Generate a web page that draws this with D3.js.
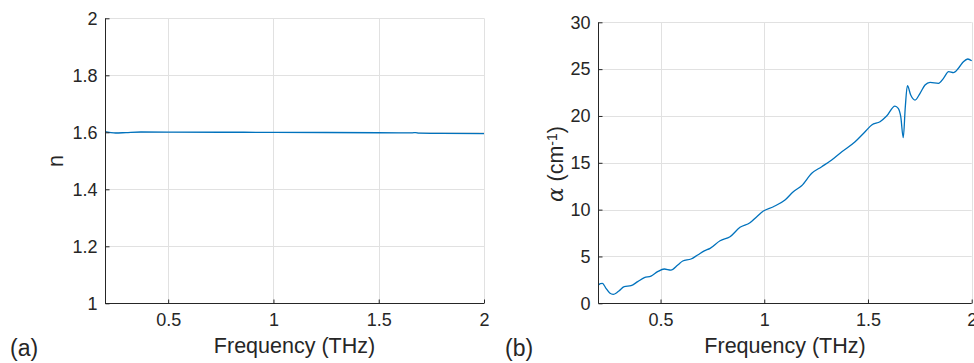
<!DOCTYPE html>
<html>
<head>
<meta charset="utf-8">
<script src="https://cdn.jsdelivr.net/npm/d3@7"></script>
<style>
  html, body { margin: 0; padding: 0; background: #ffffff; }
  svg { display: block; }
  text { font-family: "Liberation Sans", Arial, Helvetica, sans-serif; fill: #262626; }
</style>
</head>
<body>
<svg id="chart" width="974" height="363"></svg>
<script>
// ---- data ----
const xTicks = [0.5, 1, 1.5, 2];
const xTickLabels = ["0.5", "1", "1.5", "2"];
const nTicks = [1, 1.2, 1.4, 1.6, 1.8, 2];
const nTickLabels = ["1", "1.2", "1.4", "1.6", "1.8", "2"];
const alphaTicks = [0, 5, 10, 15, 20, 25, 30];
const alphaTickLabels = ["0", "5", "10", "15", "20", "25", "30"];

const nFreq  = [0.2, 0.22, 0.25, 0.3, 0.37, 0.5, 0.75, 1.0, 1.25, 1.5, 1.66, 1.675, 1.69, 1.8, 2.0];
const nValue = [1.602, 1.600, 1.5975, 1.599, 1.601, 1.6005, 1.6002, 1.600, 1.5993, 1.5985, 1.598, 1.599, 1.597, 1.5962, 1.5955];

const alphaFreq = [0.200, 0.210, 0.220, 0.237, 0.255, 0.272, 0.290, 0.301, 0.325, 0.358,
  0.390, 0.422, 0.454, 0.486, 0.518, 0.550, 0.583, 0.607, 0.647, 0.679,
  0.711, 0.739, 0.787, 0.835, 0.883, 0.931, 0.964, 0.996, 1.044, 1.100,
  1.140, 1.180, 1.229, 1.277, 1.325, 1.374, 1.438, 1.486, 1.518, 1.558,
  1.590, 1.630, 1.646, 1.658, 1.670, 1.680, 1.690, 1.706, 1.727, 1.751,
  1.775, 1.799, 1.840, 1.864, 1.889, 1.912, 1.936, 1.960, 1.981, 2.000];
const alphaValue = [1.95, 2.10, 2.13, 1.60, 1.10, 0.96, 1.15, 1.35, 1.77, 1.88,
  2.31, 2.74, 2.91, 3.38, 3.66, 3.55, 4.09, 4.52, 4.73, 5.16,
  5.60, 5.87, 6.68, 7.11, 8.11, 8.60, 9.25, 9.85, 10.31, 11.03,
  11.91, 12.55, 13.88, 14.58, 15.30, 16.18, 17.25, 18.32, 19.03, 19.39,
  20.00, 21.06, 20.82, 19.92, 17.68, 20.99, 23.23, 22.24, 21.70, 22.42,
  23.30, 23.59, 23.49, 24.02, 24.73, 24.62, 25.09, 25.79, 26.08, 25.90];

// ---- drawing ----
const svg = d3.select("#chart");
const lineColor = "#0072BD";
const gridColor = "#e1e1e1";
const axisColor = "#262626";

function panel(opts) {
  const x = d3.scaleLinear().domain([0.2, 2]).range([opts.left, opts.right]);
  const y = d3.scaleLinear().domain(opts.yDomain).range([opts.bottom, opts.top]);
  const g = svg.append("g");

  // grid
  g.append("g").selectAll("line.vg").data(xTicks).join("line")
    .attr("x1", d => Math.round(x(d)) + 0.5).attr("x2", d => Math.round(x(d)) + 0.5)
    .attr("y1", opts.top).attr("y2", opts.bottom)
    .attr("stroke", gridColor).attr("stroke-width", 1);
  g.append("g").selectAll("line.hg").data(opts.yTicks).join("line")
    .attr("y1", d => Math.round(y(d)) + 0.5).attr("y2", d => Math.round(y(d)) + 0.5)
    .attr("x1", opts.left).attr("x2", opts.right)
    .attr("stroke", gridColor).attr("stroke-width", 1);

  // data line
  const line = d3.line().x(d => x(d[0])).y(d => y(d[1])).curve(d3.curveMonotoneX);
  const pts = opts.xs.map((v, i) => [v, opts.ys[i]]);
  g.append("path").datum(pts).attr("d", line)
    .attr("fill", "none").attr("stroke", lineColor).attr("stroke-width", 1.3)
    .attr("stroke-linejoin", "round");

  // axes (ticks inside)
  const xAxis = d3.axisBottom(x).tickValues(xTicks)
    .tickFormat((d, i) => xTickLabels[i]).tickSizeInner(-4).tickSizeOuter(0).tickPadding(12);
  const gx = g.append("g").attr("transform", `translate(0,${Math.round(opts.bottom) + 0.5})`).call(xAxis);
  const yAxis = d3.axisLeft(y).tickValues(opts.yTicks)
    .tickFormat((d, i) => opts.yTickLabels[i]).tickSizeInner(-4).tickSizeOuter(0).tickPadding(8);
  const gy = g.append("g").attr("transform", `translate(${Math.round(opts.left) + 0.5},0)`).call(yAxis);
  [gx, gy].forEach(a => {
    a.selectAll(".domain").attr("stroke", axisColor).attr("stroke-width", 1);
    a.selectAll(".tick line").attr("stroke", axisColor);
    a.selectAll(".tick text").attr("fill", axisColor)
      .style("font-family", '"Liberation Sans", Arial, sans-serif').style("font-size", "18px");
  });
  gx.selectAll(".tick text").attr("dy", "0.71em").attr("y", 10);
  gx.select(".domain").attr("d", `M${opts.left},0H${opts.right}`);
  gy.select(".domain").attr("d", `M0,${opts.bottom}V${opts.top}`);

  // x label
  g.append("text").attr("x", (opts.left + opts.right) / 2).attr("y", 353)
    .attr("text-anchor", "middle").style("font-size", "21.5px").text("Frequency (THz)");
  // panel letter
  g.append("text").attr("x", opts.letterX).attr("y", 356)
    .style("font-size", "23px").text(opts.letter);
  return g;
}

const gA = panel({
  left: 105, right: 484, top: 18.3, bottom: 303.3,
  yDomain: [1, 2], yTicks: nTicks, yTickLabels: nTickLabels,
  xs: nFreq, ys: nValue, letter: "(a)", letterX: 10
});
gA.append("text").attr("transform", "translate(63,161) rotate(-90)")
  .attr("text-anchor", "middle").style("font-size", "21.5px").text("n");

const gB = panel({
  left: 598.3, right: 971.7, top: 22.3, bottom: 303.3,
  yDomain: [0, 30], yTicks: alphaTicks, yTickLabels: alphaTickLabels,
  xs: alphaFreq, ys: alphaValue, letter: "(b)", letterX: 505
});
const yl = gB.append("text").attr("transform", "translate(563,164) rotate(-90)")
  .attr("text-anchor", "middle").style("font-size", "21.5px");
yl.append("tspan").style("font-family", '"DejaVu Serif", "Liberation Serif", serif')
  .style("font-style", "italic").text("α");
yl.append("tspan").text(" (cm");
yl.append("tspan").attr("dy", "-0.45em").style("font-size", "14px").text("-1");
yl.append("tspan").attr("dy", "0.3em").text(")");
</script>
</body>
</html>
